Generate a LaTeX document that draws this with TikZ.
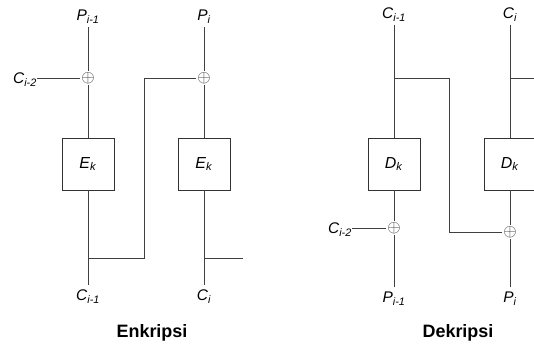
\documentclass[tikz,border=0pt]{standalone}
\usepackage{fontspec}
\setmainfont{Liberation Sans}
\usetikzlibrary{positioning}
\newcommand{\lab}[2]{\textit{#1}\textsubscript{\textit{#2}}}

\begin{document}
\begin{tikzpicture}[x=1bp,y=-1bp,line cap=butt,
  lijn/.style={draw=black!75,line width=0.8bp},
  blok/.style={draw=black!80,line width=0.8bp,minimum size=52bp,inner sep=0pt,font=\fontsize{16}{18}\selectfont},
  xo/.style={inner sep=1.5bp,text=black!80,font=\fontsize{17}{18}\selectfont},
  lbl/.style={inner sep=3bp,font=\fontsize{15.5}{17}\selectfont},
  judul/.style={anchor=base,font=\bfseries\fontsize{18}{20}\selectfont}]
\useasboundingbox (0,0) rectangle (534,347);
% enkripsi
\node[blok] (e1) at (88,164) {\lab{E}{k}};
\node[blok] (e2) at (204,164) {\lab{E}{k}};
\node[xo] (xe1) at (88,78) {$\oplus$};
\node[xo] (xe2) at (204,78) {$\oplus$};
\node[lbl] (pe1) at (88,17) {\lab{P}{i-1}};
\node[lbl] (pe2) at (204,17) {\lab{P}{i}};
\node[lbl,anchor=east,inner sep=0pt] (ce0) at (37,80) {\lab{C}{i-2}};
\node[lbl,inner sep=5bp] (ce1) at (88,297) {\lab{C}{i-1}};
\node[lbl,inner sep=5bp] (ce2) at (204,297) {\lab{C}{i}};
\coordinate (je1) at (88,258);
\coordinate (ke1) at (144,258);
\coordinate (je2) at (204,258);
\coordinate (oe2) at (243,258);
\draw[lijn] (pe1) -- (xe1);
\draw[lijn] (xe1) -- (e1);
\draw[lijn] (e1) -- (ce1);
\draw[lijn] (ce0.east |- xe1) -- (xe1);
\draw[lijn] (pe2) -- (xe2);
\draw[lijn] (xe2) -- (e2);
\draw[lijn] (e2) -- (ce2);
\draw[lijn] (je1) -- (ke1) |- (xe2);
\draw[lijn] (je2) -- (oe2);
\node[judul] (ten) at (152,337) {Enkripsi};
% dekripsi
\node[blok] (d1) at (394,164) {\lab{D}{k}};
\node[blok] (d2) at (510,164) {\lab{D}{k}};
\node[xo] (xd1) at (394,228) {$\oplus$};
\node[xo] (xd2) at (510,232) {$\oplus$};
\node[lbl] (cd1) at (394,15) {\lab{C}{i-1}};
\node[lbl] (cd2) at (510,15) {\lab{C}{i}};
\node[lbl,anchor=east,inner sep=0pt] (cd0) at (352,230) {\lab{C}{i-2}};
\node[lbl,inner sep=5bp] (pd1) at (394,299) {\lab{P}{i-1}};
\node[lbl,inner sep=5bp] (pd2) at (510,299) {\lab{P}{i}};
\coordinate (jd1) at (394,78);
\coordinate (kd1) at (449,78);
\coordinate (jd2) at (510,78);
\coordinate (od2) at (534,78);
\draw[lijn] (cd1) -- (d1);
\draw[lijn] (d1) -- (xd1);
\draw[lijn] (xd1) -- (pd1);
\draw[lijn] (cd0.east |- xd1) -- (xd1);
\draw[lijn] (cd2) -- (d2);
\draw[lijn] (d2) -- (xd2);
\draw[lijn] (xd2) -- (pd2);
\draw[lijn] (jd1) -- (kd1) |- (xd2);
\draw[lijn] (jd2) -- (od2);
\node[judul] (tde) at (458,337) {Dekripsi};
\end{tikzpicture}
\end{document}
